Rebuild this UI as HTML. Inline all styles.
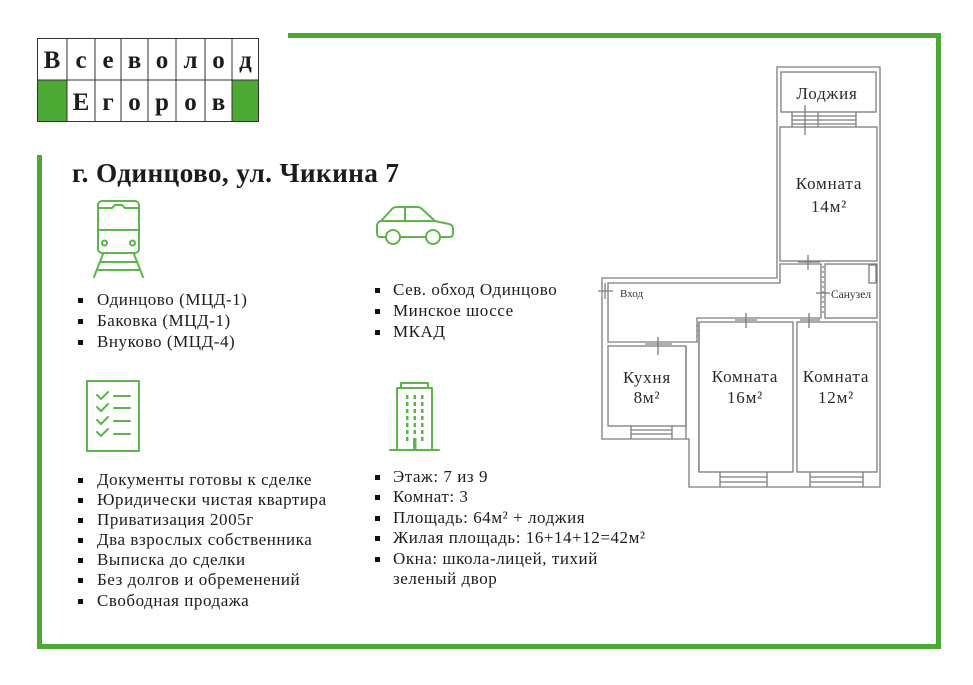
<!DOCTYPE html>
<html>
<head>
<meta charset="utf-8">
<style>
html,body{margin:0;padding:0;background:#fff;}
body{width:973px;height:685px;overflow:hidden;}
svg{display:block;}
.t{font-family:"Liberation Serif","Noto Serif CJK SC",serif;fill:#1c1c1c;}
.li{font-size:17px;letter-spacing:0.55px;}
.pl{font-family:"Liberation Serif",serif;fill:#2a2a2a;font-size:17px;letter-spacing:0.8px;}
</style>
</head>
<body>
<svg width="973" height="685" viewBox="0 0 973 685" xmlns="http://www.w3.org/2000/svg">
  <!-- frame -->
  <g fill="#4caa34">
    <rect x="288" y="33" width="653" height="5"/>
    <rect x="936" y="33" width="5" height="616"/>
    <rect x="37" y="644" width="904" height="5"/>
    <rect x="37" y="155" width="5" height="494"/>
  </g>

  <!-- logo -->
  <g>
    <rect x="37" y="80" width="30" height="42" fill="#4caa34"/>
    <rect x="232" y="80" width="27" height="42" fill="#4caa34"/>
    <g stroke="#333" stroke-width="1" fill="none">
      <rect x="37.5" y="38.5" width="221" height="83"/>
      <line x1="37" y1="80" x2="259" y2="80"/>
      <line x1="67" y1="38" x2="67" y2="122"/>
      <line x1="95" y1="38" x2="95" y2="122"/>
      <line x1="121" y1="38" x2="121" y2="122"/>
      <line x1="148" y1="38" x2="148" y2="122"/>
      <line x1="176" y1="38" x2="176" y2="122"/>
      <line x1="205" y1="38" x2="205" y2="122"/>
      <line x1="232" y1="38" x2="232" y2="122"/>
    </g>
    <g class="t" font-size="25" font-weight="bold" text-anchor="middle">
      <text x="52" y="68">В</text>
      <text x="81" y="68">с</text>
      <text x="108" y="68">е</text>
      <text x="134.5" y="68">в</text>
      <text x="162" y="68">о</text>
      <text x="190.5" y="68">л</text>
      <text x="218.5" y="68">о</text>
      <text x="245.5" y="68">д</text>
      <text x="81" y="110">Е</text>
      <text x="108" y="110">г</text>
      <text x="134.5" y="110">о</text>
      <text x="162" y="110">р</text>
      <text x="190.5" y="110">о</text>
      <text x="218.5" y="110">в</text>
    </g>
  </g>

  <!-- title -->
  <text class="t" x="72" y="182" font-size="27.3" font-weight="bold" letter-spacing="0.35">г. Одинцово, ул. Чикина 7</text>

  <!-- icons -->
  <g fill="none" stroke="#5cb548" stroke-width="2" stroke-linecap="round" stroke-linejoin="round">
    <!-- train -->
    <rect x="98" y="201" width="41" height="52" rx="4"/>
    <path d="M98 208 H112 L115 205 H122 L125 208 H139"/>
    <line x1="98" y1="230" x2="139" y2="230"/>
    <circle cx="104.5" cy="243" r="2.5"/>
    <circle cx="132.5" cy="243" r="2.5"/>
    <line x1="103" y1="254" x2="94" y2="277"/>
    <line x1="134" y1="254" x2="143" y2="277"/>
    <line x1="100" y1="262" x2="137" y2="262"/>
    <line x1="97" y1="270" x2="140" y2="270"/>
    <!-- car -->
    <path d="M386 237 H380 Q377 237 377 233 V226 Q377 222 381 221 L392 209 Q394 207 397 207 H417 Q420 207 422 209 L435 221 L449 224 Q453 225 453 229 V233 Q453 237 449 237 H441"/>
    <line x1="400" y1="237" x2="426" y2="237"/>
    <circle cx="393" cy="237" r="7"/>
    <circle cx="433" cy="237" r="7"/>
    <line x1="381" y1="221" x2="435" y2="221"/>
    <line x1="405" y1="207" x2="405" y2="221"/>
    <!-- documents -->
    <rect x="87" y="381" width="52" height="70"/>
    <path d="M97 395 L101 399 L108 392"/>
    <path d="M97 407 L101 411 L108 404"/>
    <path d="M97 420 L101 424 L108 417"/>
    <path d="M97 432 L101 436 L108 429"/>
    <line x1="114" y1="396" x2="130" y2="396"/>
    <line x1="114" y1="408" x2="130" y2="408"/>
    <line x1="114" y1="421" x2="130" y2="421"/>
    <line x1="114" y1="434" x2="130" y2="434"/>
    <!-- building -->
    <rect x="401" y="383" width="27" height="5"/>
    <rect x="397" y="388" width="35" height="62"/>
    <line x1="390" y1="450" x2="439" y2="450"/>
  </g>
  <g fill="#5cb548">
    <rect x="406" y="395" width="2.5" height="4"/><rect x="413.5" y="395" width="2.5" height="4"/><rect x="421" y="395" width="2.5" height="4"/>
    <rect x="406" y="402" width="2.5" height="4"/><rect x="413.5" y="402" width="2.5" height="4"/><rect x="421" y="402" width="2.5" height="4"/>
    <rect x="406" y="409" width="2.5" height="4"/><rect x="413.5" y="409" width="2.5" height="4"/><rect x="421" y="409" width="2.5" height="4"/>
    <rect x="406" y="416" width="2.5" height="4"/><rect x="413.5" y="416" width="2.5" height="4"/><rect x="421" y="416" width="2.5" height="4"/>
    <rect x="406" y="423" width="2.5" height="4"/><rect x="413.5" y="423" width="2.5" height="4"/><rect x="421" y="423" width="2.5" height="4"/>
    <rect x="406" y="430" width="2.5" height="4"/><rect x="413.5" y="430" width="2.5" height="4"/><rect x="421" y="430" width="2.5" height="4"/>
    <rect x="406" y="437" width="2.5" height="4"/><rect x="421" y="437" width="2.5" height="4"/>
    <rect x="413" y="438" width="3.5" height="12"/>
  </g>

  <!-- bullets -->
  <g fill="#111">
    <rect x="78" y="298" width="5" height="5"/>
    <rect x="78" y="319" width="5" height="5"/>
    <rect x="78" y="340" width="5" height="5"/>
    <rect x="375" y="288" width="5" height="5"/>
    <rect x="375" y="309" width="5" height="5"/>
    <rect x="375" y="330" width="5" height="5"/>
    <rect x="78" y="478" width="5" height="5"/>
    <rect x="78" y="498" width="5" height="5"/>
    <rect x="78" y="518" width="5" height="5"/>
    <rect x="78" y="538" width="5" height="5"/>
    <rect x="78" y="558" width="5" height="5"/>
    <rect x="78" y="578" width="5" height="5"/>
    <rect x="78" y="599" width="5" height="5"/>
    <rect x="375" y="475" width="5" height="5"/>
    <rect x="375" y="495" width="5" height="5"/>
    <rect x="375" y="516" width="5" height="5"/>
    <rect x="375" y="536" width="5" height="5"/>
    <rect x="375" y="557" width="5" height="5"/>
  </g>
  <g class="t li">
    <text x="97" y="305">Одинцово (МЦД-1)</text>
    <text x="97" y="326">Баковка (МЦД-1)</text>
    <text x="97" y="347">Внуково (МЦД-4)</text>
    <text x="393" y="295">Сев. обход Одинцово</text>
    <text x="393" y="316">Минское шоссе</text>
    <text x="393" y="337">МКАД</text>
    <text x="97" y="485">Документы готовы к сделке</text>
    <text x="97" y="505">Юридически чистая квартира</text>
    <text x="97" y="525">Приватизация 2005г</text>
    <text x="97" y="545">Два взрослых собственника</text>
    <text x="97" y="565">Выписка до сделки</text>
    <text x="97" y="585">Без долгов и обременений</text>
    <text x="97" y="606">Свободная продажа</text>
    <text x="393" y="482">Этаж: 7 из 9</text>
    <text x="393" y="502">Комнат: 3</text>
    <text x="393" y="523">Площадь: 64м² + лоджия</text>
    <text x="393" y="543">Жилая площадь: 16+14+12=42м²</text>
    <text x="393" y="564">Окна: школа-лицей, тихий</text>
    <text x="393" y="584">зеленый двор</text>
  </g>

  <!-- floor plan -->
  <g fill="none" stroke="#7d7d7d" stroke-width="1.3">
    <!-- outer boundary -->
    <path d="M777 67 H880 V487 H689 V439 H602 V278 H777 Z"/>
    <!-- loggia -->
    <rect x="781" y="72" width="95" height="40"/>
    <!-- room 14 -->
    <rect x="780" y="127" width="97" height="134"/>
    <!-- loggia window -->
    <path d="M792 112 V127 M856 112 V127 M792 116 H856 M792 120 H856 M792 124 H856 M818 112 V127"/>
    <!-- hallway -->
    <path d="M608 283 H780 V264 H821 V318 H697 V342 H608 Z"/>
    <!-- bathroom -->
    <rect x="825" y="264" width="52" height="54"/>
    <rect x="869" y="265" width="7" height="18"/>
    <!-- kitchen -->
    <rect x="608" y="346" width="78" height="80"/>
    <path d="M631 426 V439 M672 426 V439 M631 430 H672 M631 434 H672"/>
    <!-- room 16 -->
    <rect x="699" y="322" width="94" height="150"/>
    <path d="M720 472 V487 M767 472 V487 M720 477 H767 M720 482 H767"/>
    <!-- room 12 -->
    <rect x="797" y="322" width="80" height="150"/>
    <path d="M810 472 V487 M863 472 V487 M810 477 H863 M810 482 H863"/>
    <!-- misc inner walls -->
    <path d="M686 346 V439 M699 322 V472"/>
    <path d="M823 266 V316" stroke-dasharray="2 3"/>
    <path d="M697 325 V340" stroke-dasharray="2 3"/>
    <!-- door marks -->
    <path d="M805 105 V135 M808 255 V270 M798 262 H820"/>
    <path d="M598 291 H613 M605 283 V299"/>
    <path d="M816 293 H830"/>
    <path d="M746 313 V328 M735 320 H757"/>
    <path d="M809 313 V328 M800 320 H820"/>
    <path d="M658 337 V355 M645 344 H672"/>
  </g>
  <g class="pl" text-anchor="middle">
    <text x="827" y="99">Лоджия</text>
    <text x="829" y="189">Комната</text>
    <text x="829" y="212">14м²</text>
    <text x="647" y="383">Кухня</text>
    <text x="647" y="403">8м²</text>
    <text x="745" y="382">Комната</text>
    <text x="745" y="403">16м²</text>
    <text x="836" y="382">Комната</text>
    <text x="836" y="403">12м²</text>
  </g>
  <text x="620" y="297" font-family="Liberation Serif, serif" font-size="11" fill="#333">Вход</text>
  <text x="831" y="298" font-family="Liberation Serif, serif" font-size="11.5" fill="#333">Санузел</text>
</svg>
</body>
</html>
